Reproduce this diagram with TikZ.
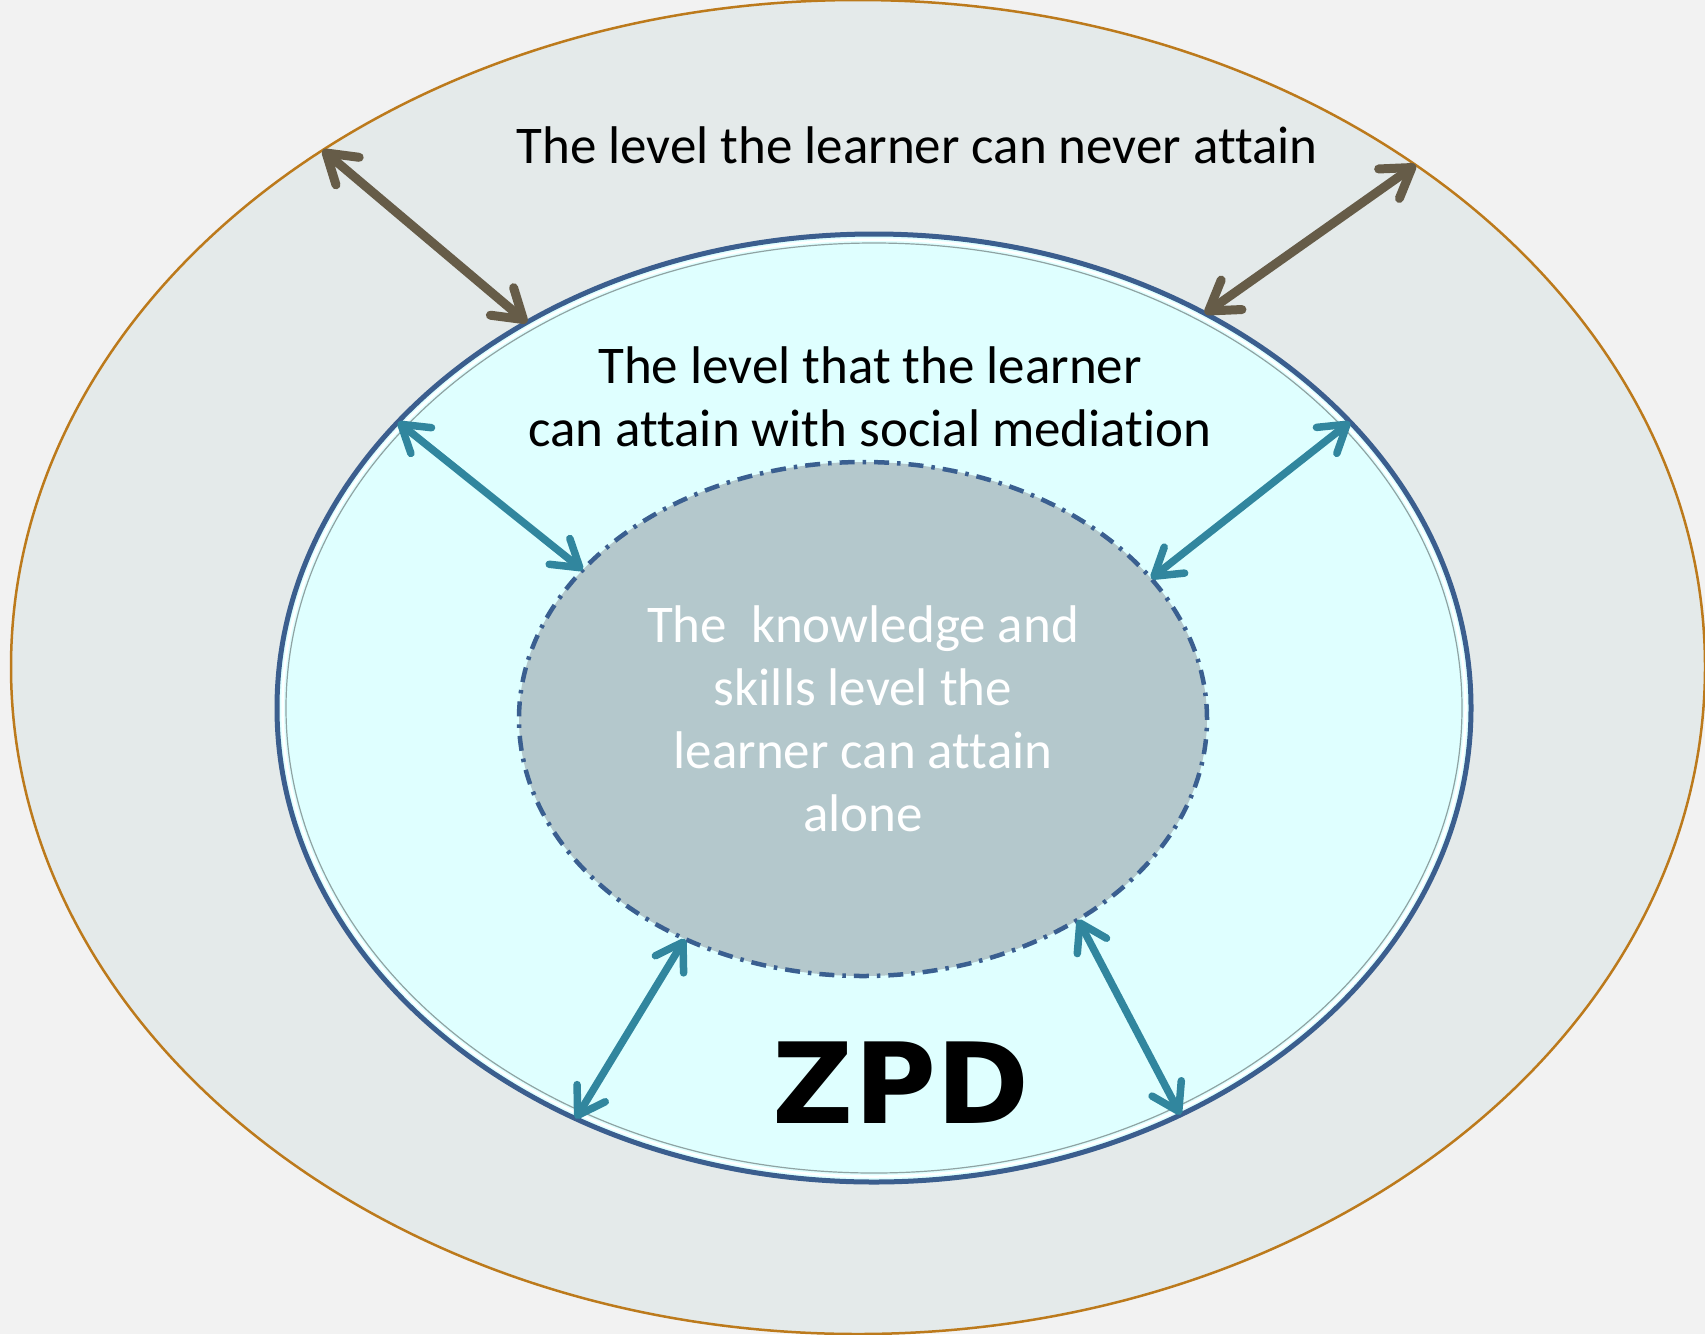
\documentclass[tikz,border=0pt]{standalone}
\usepackage{fontspec}
\setmainfont{Carlito}[Ligatures=NoCommon]
\newfontfamily\zpdfont{DejaVu Sans}
\usetikzlibrary{shapes.geometric,arrows.meta}
\definecolor{paper}{HTML}{F2F2F2}
\definecolor{outerfill}{HTML}{E4EAEA}
\definecolor{outerline}{HTML}{BC7A1C}
\definecolor{midfill}{HTML}{DFFFFF}
\definecolor{midline}{HTML}{3B5E8E}
\definecolor{rimgrey}{HTML}{8FA3A3}
\definecolor{innerfill}{HTML}{B4C8CC}
\definecolor{innerline}{HTML}{3A5F90}
\definecolor{brownarrow}{HTML}{665C48}
\definecolor{tealarrow}{HTML}{31869E}
\begin{document}
\begin{tikzpicture}[x=1pt, y=-1pt,
	zone/.style={shape=ellipse, inner sep=0pt, outer sep=0pt},
	lbl/.style={font=\fontsize{53}{63}\selectfont, align=center, inner sep=0pt},
	outerarrow/.style={<->, >={Straight Barb[length=28pt, width=36pt, round]}, line width=9pt, draw=brownarrow},
	innerarrow/.style={<->, >={Straight Barb[length=26pt, width=33pt, round]}, line width=7.5pt, draw=tealarrow}]
	\useasboundingbox (0, 0) rectangle (1705, 1334);
	\fill [paper] (0, 0) rectangle (1705, 1334);
	
	\node [zone, fill=outerfill, draw=outerline, line width=2.5pt, minimum width=1694pt, minimum height=1334pt] (never) at (858, 667) {};
	\node [zone, fill=midfill, draw=midline, line width=5pt, minimum width=1194pt, minimum height=948pt] (zpd) at (874, 708) {};
	\node [zone, draw=white, line width=2.5pt, minimum width=1183pt, minimum height=937pt] (rim) at (zpd) {};
	\node [zone, draw=rimgrey, line width=1.2pt, minimum width=1176pt, minimum height=930pt] (rimshade) at (zpd) {};
	\node [zone, lbl, text=white, fill=innerfill, draw=innerline, line width=4.5pt, dash pattern=on 15pt off 8pt on 3.5pt off 8pt, minimum width=688pt, minimum height=514pt] (alone) at (863, 719) {The~ knowledge and\\skills level the\\learner can attain\\alone};
	
	\node [lbl] (nevertext) at (917, 145) {The level the learner can never attain};
	\node [lbl] (socialtext) at (870, 397) {The level that the learner\\can attain with social mediation};
	\node [font=\zpdfont\bfseries\fontsize{112}{112}\selectfont, inner sep=0pt] (zpdtext) at (901, 1083) {ZPD};
	
	\draw [outerarrow] (never.136) to (zpd.132);
	\draw [outerarrow] (never.42) to (zpd.50);
	
	\draw [innerarrow] (zpd.149) to (alone.152);
	\draw [innerarrow] (zpd.31) to (alone.26);
	\draw [innerarrow] (alone.231) to (zpd.234);
	\draw [innerarrow] (alone.317) to (zpd.307);
\end{tikzpicture}
\end{document}
